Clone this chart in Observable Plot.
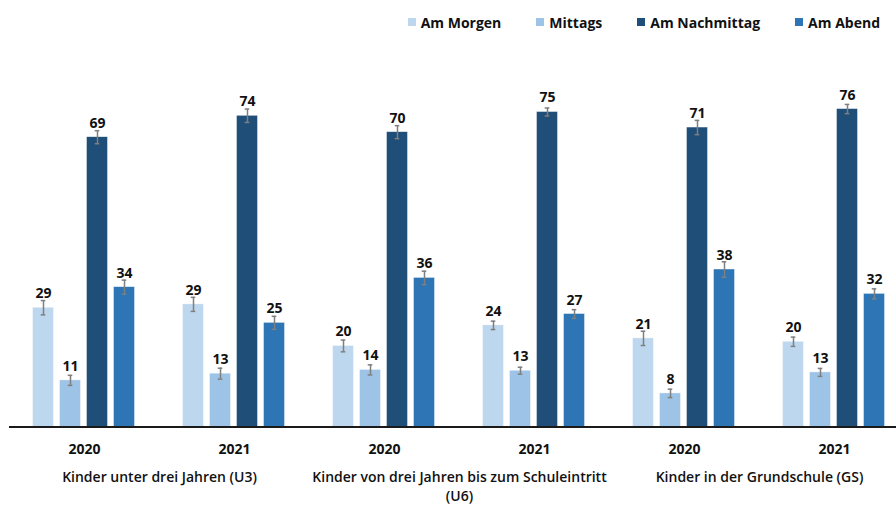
<!DOCTYPE html>
<html>
<head>
<meta charset="utf-8">
<script src="https://cdn.jsdelivr.net/npm/d3@7"></script>
<script src="https://cdn.jsdelivr.net/npm/@observablehq/plot@0.6"></script>
<style>
  html, body { margin: 0; padding: 0; background: #ffffff; }
  body { width: 896px; height: 506px; overflow: hidden; font-family: "Open Sans", sans-serif; }
  #legend { height: 36px; box-sizing: border-box; padding-top: 12px; padding-right: 16px;
            display: flex; justify-content: flex-end; gap: 35px; }
  .item { display: flex; align-items: center; height: 20px; font-size: 14px; font-weight: 700; color: #111; }
  .sw { width: 8px; height: 8px; margin-right: 5px; }
  #chart svg { display: block; }
</style>
</head>
<body>
<div id="legend"></div>
<div id="chart"></div>
<script>
// ---- data ----
const series = ["Am Morgen", "Mittags", "Am Nachmittag", "Am Abend"];
const colors = ["#BDD7EE", "#9DC3E6", "#1F4E79", "#2E75B6"];
const categories = [
  "Kinder unter drei Jahren (U3)",
  "Kinder von drei Jahren bis zum Schuleintritt\n(U6)",
  "Kinder in der Grundschule (GS)"
];
const years = ["2020", "2021"];
// order of groups: U3-2020, U3-2021, U6-2020, U6-2021, GS-2020, GS-2021
const morgen     = [28.4, 29.2, 19.3, 24.2, 21.1, 20.3];
const mittags    = [11.1, 12.7, 13.6, 13.4, 8.0, 13.0];
const nachmittag = [69.0, 74.1, 70.2, 75.0, 71.3, 75.7];
const abend      = [33.3, 24.8, 35.5, 26.9, 37.5, 31.7];
const labelsMorgen     = [29, 29, 20, 24, 21, 20];
const labelsMittags    = [11, 13, 14, 13, 8, 13];
const labelsNachmittag = [69, 74, 70, 75, 71, 76];
const labelsAbend      = [34, 25, 36, 27, 38, 32];
const errMorgen     = [1.7, 1.67, 1.4, 1.0, 1.7, 1.1];
const errMittags    = [1.2, 1.3, 1.2, 0.83, 1.0, 0.95];
const errNachmittag = [1.55, 1.6, 1.55, 0.95, 1.7, 1.1];
const errAbend      = [1.67, 1.55, 1.6, 1.04, 1.83, 1.19];

const valuesBySeries = [morgen, mittags, nachmittag, abend];
const labelsBySeries = [labelsMorgen, labelsMittags, labelsNachmittag, labelsAbend];
const errBySeries = [errMorgen, errMittags, errNachmittag, errAbend];

// ---- build tables ----
const groups = [];
categories.forEach((c, ci) => years.forEach(y => groups.push({key: `${ci}-${y}`, cat: c, year: y})));
const keys = groups.map(g => g.key);
const rows = [];
groups.forEach((g, gi) => series.forEach((s, si) => {
  const v = valuesBySeries[si][gi], e = errBySeries[si][gi];
  rows.push({key: g.key, series: s, value: v, label: String(labelsBySeries[si][gi]), lo: v - e, hi: v + e});
}));
const catRows = categories.map((c, ci) => ({key: `${ci}-${years[0]}`, name: c}));

// ---- legend ----
const legend = document.getElementById("legend");
series.forEach((s, i) => {
  const it = document.createElement("div");
  it.className = "item";
  const sw = document.createElement("span");
  sw.className = "sw";
  sw.style.background = colors[i];
  it.appendChild(sw);
  it.appendChild(document.createTextNode(s));
  legend.appendChild(it);
});

// ---- chart ----
const font = {fontFamily: "Open Sans", fill: "#111"};
const chart = Plot.plot({
  width: 896,
  height: 470,
  marginTop: 54.5,
  marginBottom: 79.5,
  marginLeft: 8.5,
  marginRight: 0,
  style: {background: "#ffffff", fontFamily: "Open Sans", overflow: "visible"},
  fx: {domain: keys, range: [8.5, 908.5], padding: 0, axis: null},
  x: {domain: series, paddingInner: 0.214, paddingOuter: 0.861, axis: null},
  y: {domain: [0, 80], axis: null},
  color: {domain: series, range: colors},
  marks: [
    Plot.barY(rows, {fx: "key", x: "series", y: "value", fill: "series", stroke: "#ffffff", strokeWidth: 0.6, strokeOpacity: 0.7}),
    Plot.ruleY([0], {stroke: "#1a1a1a", strokeWidth: 2}),
    Plot.ruleX(rows, {fx: "key", x: "series", y1: "lo", y2: "hi", stroke: "#7f7f7f", strokeWidth: 1.5}),
    Plot.tickY(rows, {fx: "key", x: "series", y: "hi", stroke: "#7f7f7f", strokeWidth: 1.5, insetLeft: 8.2, insetRight: 8.2}),
    Plot.tickY(rows, {fx: "key", x: "series", y: "lo", stroke: "#7f7f7f", strokeWidth: 1.5, insetLeft: 8.2, insetRight: 8.2}),
    Plot.text(rows, {fx: "key", x: "series", y: "value", text: "label", dy: -14, lineAnchor: "middle",
      fontSize: 14, fontWeight: 700, ...font}),
    Plot.text(groups, {fx: "key", text: "year", frameAnchor: "bottom", dy: 22.5, lineAnchor: "middle",
      fontSize: 14, fontWeight: 700, ...font}),
    Plot.text(catRows, {fx: "key", text: "name", frameAnchor: "bottom", dx: 75, dy: 42, lineAnchor: "top",
      lineHeight: 1.33, fontSize: 14, fontWeight: 600, ...font})
  ]
});
document.getElementById("chart").appendChild(chart);
</script>
</body>
</html>
